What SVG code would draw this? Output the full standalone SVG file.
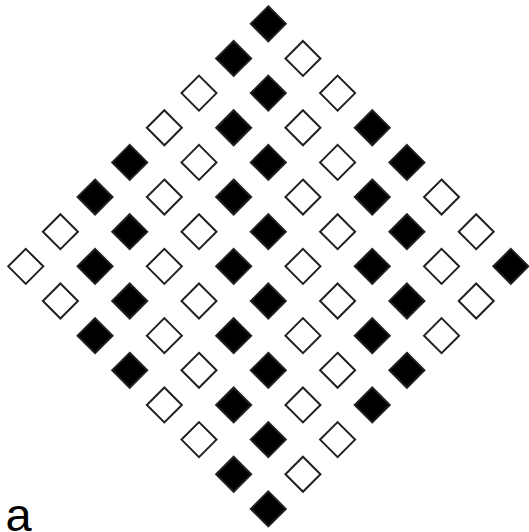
<svg xmlns="http://www.w3.org/2000/svg" xmlns:xlink="http://www.w3.org/1999/xlink" width="529" height="532" viewBox="0 0 529 532">
<style>
.f{fill:#000;stroke:#231f20;stroke-width:2}
.w{fill:#fff;stroke:#231f20;stroke-width:2}
.lbl{font-family:"Liberation Sans",Arial,sans-serif;font-size:47px;fill:#000}
</style>
<defs><path id="dm" d="M0,-17.5 L17.5,0 L0,17.5 L-17.5,0 Z"/></defs>
<rect width="529" height="532" fill="#fff"/>
<g id="connectors"></g>
<g id="nodes">
<g id="n0_0"><use href="#dm" class="f" x="268.3" y="23.8"/></g>
<g id="n0_1"><use href="#dm" class="w" x="302.95" y="58.45"/></g>
<g id="n0_2"><use href="#dm" class="w" x="337.6" y="93.1"/></g>
<g id="n0_3"><use href="#dm" class="f" x="372.25" y="127.75"/></g>
<g id="n0_4"><use href="#dm" class="f" x="406.9" y="162.4"/></g>
<g id="n0_5"><use href="#dm" class="w" x="441.55" y="197.05"/></g>
<g id="n0_6"><use href="#dm" class="w" x="476.2" y="231.7"/></g>
<g id="n0_7"><use href="#dm" class="f" x="510.85" y="266.35"/></g>
<g id="n1_0"><use href="#dm" class="f" x="233.65" y="58.45"/></g>
<g id="n1_1"><use href="#dm" class="f" x="268.3" y="93.1"/></g>
<g id="n1_2"><use href="#dm" class="w" x="302.95" y="127.75"/></g>
<g id="n1_3"><use href="#dm" class="w" x="337.6" y="162.4"/></g>
<g id="n1_4"><use href="#dm" class="f" x="372.25" y="197.05"/></g>
<g id="n1_5"><use href="#dm" class="f" x="406.9" y="231.7"/></g>
<g id="n1_6"><use href="#dm" class="w" x="441.55" y="266.35"/></g>
<g id="n1_7"><use href="#dm" class="w" x="476.2" y="301"/></g>
<g id="n2_0"><use href="#dm" class="w" x="199" y="93.1"/></g>
<g id="n2_1"><use href="#dm" class="f" x="233.65" y="127.75"/></g>
<g id="n2_2"><use href="#dm" class="f" x="268.3" y="162.4"/></g>
<g id="n2_3"><use href="#dm" class="w" x="302.95" y="197.05"/></g>
<g id="n2_4"><use href="#dm" class="w" x="337.6" y="231.7"/></g>
<g id="n2_5"><use href="#dm" class="f" x="372.25" y="266.35"/></g>
<g id="n2_6"><use href="#dm" class="f" x="406.9" y="301"/></g>
<g id="n2_7"><use href="#dm" class="w" x="441.55" y="335.65"/></g>
<g id="n3_0"><use href="#dm" class="w" x="164.35" y="127.75"/></g>
<g id="n3_1"><use href="#dm" class="w" x="199" y="162.4"/></g>
<g id="n3_2"><use href="#dm" class="f" x="233.65" y="197.05"/></g>
<g id="n3_3"><use href="#dm" class="f" x="268.3" y="231.7"/></g>
<g id="n3_4"><use href="#dm" class="w" x="302.95" y="266.35"/></g>
<g id="n3_5"><use href="#dm" class="w" x="337.6" y="301"/></g>
<g id="n3_6"><use href="#dm" class="f" x="372.25" y="335.65"/></g>
<g id="n3_7"><use href="#dm" class="f" x="406.9" y="370.3"/></g>
<g id="n4_0"><use href="#dm" class="f" x="129.7" y="162.4"/></g>
<g id="n4_1"><use href="#dm" class="w" x="164.35" y="197.05"/></g>
<g id="n4_2"><use href="#dm" class="w" x="199" y="231.7"/></g>
<g id="n4_3"><use href="#dm" class="f" x="233.65" y="266.35"/></g>
<g id="n4_4"><use href="#dm" class="f" x="268.3" y="301"/></g>
<g id="n4_5"><use href="#dm" class="w" x="302.95" y="335.65"/></g>
<g id="n4_6"><use href="#dm" class="w" x="337.6" y="370.3"/></g>
<g id="n4_7"><use href="#dm" class="f" x="372.25" y="404.95"/></g>
<g id="n5_0"><use href="#dm" class="f" x="95.05" y="197.05"/></g>
<g id="n5_1"><use href="#dm" class="f" x="129.7" y="231.7"/></g>
<g id="n5_2"><use href="#dm" class="w" x="164.35" y="266.35"/></g>
<g id="n5_3"><use href="#dm" class="w" x="199" y="301"/></g>
<g id="n5_4"><use href="#dm" class="f" x="233.65" y="335.65"/></g>
<g id="n5_5"><use href="#dm" class="f" x="268.3" y="370.3"/></g>
<g id="n5_6"><use href="#dm" class="w" x="302.95" y="404.95"/></g>
<g id="n5_7"><use href="#dm" class="w" x="337.6" y="439.6"/></g>
<g id="n6_0"><use href="#dm" class="w" x="60.4" y="231.7"/></g>
<g id="n6_1"><use href="#dm" class="f" x="95.05" y="266.35"/></g>
<g id="n6_2"><use href="#dm" class="f" x="129.7" y="301"/></g>
<g id="n6_3"><use href="#dm" class="w" x="164.35" y="335.65"/></g>
<g id="n6_4"><use href="#dm" class="w" x="199" y="370.3"/></g>
<g id="n6_5"><use href="#dm" class="f" x="233.65" y="404.95"/></g>
<g id="n6_6"><use href="#dm" class="f" x="268.3" y="439.6"/></g>
<g id="n6_7"><use href="#dm" class="w" x="302.95" y="474.25"/></g>
<g id="n7_0"><use href="#dm" class="w" x="25.75" y="266.35"/></g>
<g id="n7_1"><use href="#dm" class="w" x="60.4" y="301"/></g>
<g id="n7_2"><use href="#dm" class="f" x="95.05" y="335.65"/></g>
<g id="n7_3"><use href="#dm" class="f" x="129.7" y="370.3"/></g>
<g id="n7_4"><use href="#dm" class="w" x="164.35" y="404.95"/></g>
<g id="n7_5"><use href="#dm" class="w" x="199" y="439.6"/></g>
<g id="n7_6"><use href="#dm" class="f" x="233.65" y="474.25"/></g>
<g id="n7_7"><use href="#dm" class="f" x="268.3" y="508.9"/></g>
</g>
<g id="label"><text class="lbl" x="5.5" y="531">a</text></g>
</svg>
